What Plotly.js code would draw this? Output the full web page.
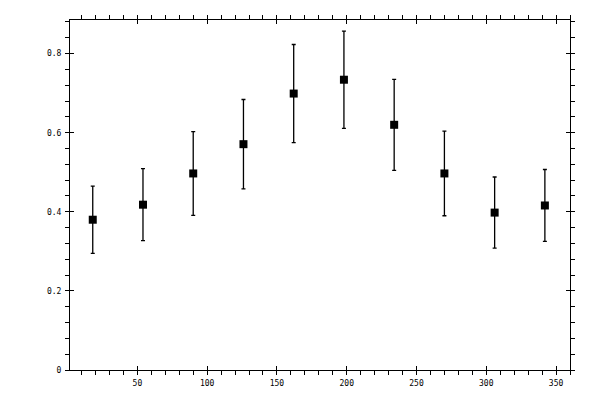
<!DOCTYPE html>
<html>
<head>
<meta charset="utf-8">
<script src="https://cdn.plot.ly/plotly-3.0.1.min.js"></script>
<style>
  html, body { margin: 0; padding: 0; background: #fff; }
  #plot { width: 600px; height: 400px; }
</style>
</head>
<body>
<div id="plot"></div>
<script>
// bin centres (degrees) and measured values with their errors
var xValues = [18, 54, 90, 126, 162, 198, 234, 270, 306, 342];
var yValues = [0.380, 0.418, 0.497, 0.571, 0.699, 0.734, 0.620, 0.497, 0.398, 0.416];
var yErrors = [0.085, 0.091, 0.106, 0.113, 0.124, 0.123, 0.115, 0.107, 0.090, 0.091];

var xRange = [1.7, 360];
var yRange = [0, 0.885];

var trace = {
  x: xValues,
  y: yValues,
  type: "scatter",
  mode: "markers",
  marker: { symbol: "square", size: 8, color: "#000" },
  error_y: {
    type: "data",
    array: yErrors,
    visible: true,
    color: "#000",
    thickness: 1.3,
    width: 2
  },
  showlegend: false,
  hoverinfo: "x+y"
};

var tickFont = { family: "DejaVu Sans Mono, monospace", size: 8, color: "#000" };

// main axes: outside ticks + labels, mirrored to top/right
var baseX = {
  range: xRange,
  dtick: 50,
  tick0: 0,
  ticks: "outside",
  ticklen: 4,
  tickwidth: 1,
  tickcolor: "#000",
  minor: { dtick: 10, tick0: 0, ticks: "outside", ticklen: 4, tickwidth: 1, tickcolor: "#000" },
  showline: true,
  linecolor: "#000",
  linewidth: 1,
  mirror: "ticks",
  showgrid: false,
  zeroline: false,
  tickfont: tickFont,
  ticklabelstandoff: 1
};
var baseY = {
  range: yRange,
  dtick: 0.2,
  tick0: 0,
  ticks: "outside",
  ticklen: 4,
  tickwidth: 1,
  tickcolor: "#000",
  minor: { dtick: 0.04, tick0: 0, ticks: "outside", ticklen: 4, tickwidth: 1, tickcolor: "#000" },
  showline: true,
  linecolor: "#000",
  linewidth: 1,
  mirror: "ticks",
  showgrid: false,
  zeroline: false,
  tickfont: tickFont,
  ticklabelstandoff: 2
};

// overlay axes: inside half of the major ticks so they cross the frame
var innerX = {
  overlaying: "x",
  range: xRange,
  dtick: 50,
  tick0: 0,
  ticks: "inside",
  ticklen: 4,
  tickwidth: 1,
  tickcolor: "#000",
  mirror: "ticks",
  showline: false,
  showgrid: false,
  zeroline: false,
  showticklabels: false
};
var innerY = {
  overlaying: "y",
  range: yRange,
  dtick: 0.2,
  tick0: 0,
  ticks: "inside",
  ticklen: 4,
  tickwidth: 1,
  tickcolor: "#000",
  mirror: "ticks",
  showline: false,
  showgrid: false,
  zeroline: false,
  showticklabels: false
};

var layout = {
  width: 600,
  height: 400,
  margin: { l: 70, r: 30, t: 20, b: 30 },
  paper_bgcolor: "#fff",
  plot_bgcolor: "#fff",
  xaxis: baseX,
  yaxis: baseY,
  xaxis2: innerX,
  yaxis2: innerY
};

// empty helper trace so the overlay axes are drawn
var helper = {
  x: [], y: [], xaxis: "x2", yaxis: "y2",
  type: "scatter", mode: "markers", showlegend: false, hoverinfo: "skip"
};

Plotly.newPlot("plot", [trace, helper], layout, { staticPlot: true });
</script>
</body>
</html>
